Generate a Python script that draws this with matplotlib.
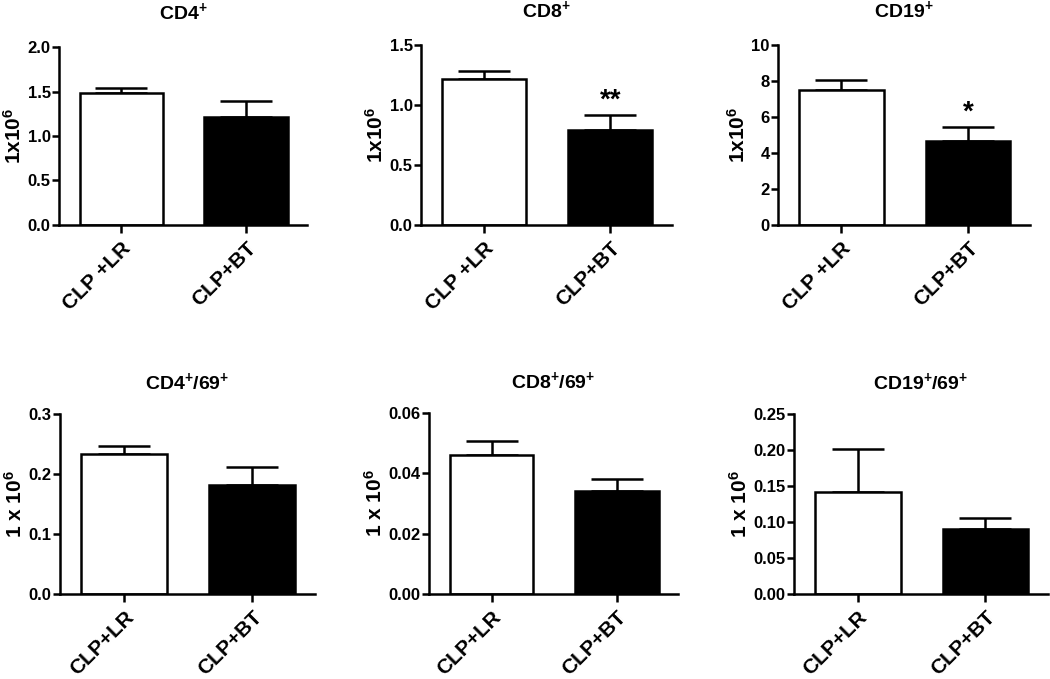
import matplotlib
matplotlib.use("Agg")
import matplotlib.pyplot as plt
import numpy as np

plt.rcParams.update({
    'font.family': 'Liberation Sans',
    'font.weight': 'bold',
    'mathtext.fontset': 'custom',
    'mathtext.rm': 'Liberation Sans:bold',
    'mathtext.it': 'Liberation Sans:bold',
    'mathtext.bf': 'Liberation Sans:bold',
})

# ---- data ----
titles = [r"CD4$^{+}$", r"CD8$^{+}$", r"CD19$^{+}$",
          r"CD4$^{+}$/69$^{+}$", r"CD8$^{+}$/69$^{+}$", r"CD19$^{+}$/69$^{+}$"]
ylabels = [r"1x10$^{6}$"] * 3 + [r"1 x 10$^{6}$"] * 3
groups_top = ["CLP +LR", "CLP+BT"]
groups_bottom = ["CLP+LR", "CLP+BT"]

lr_mean = [1.48, 1.22, 7.5, 0.234, 0.046, 0.142]
lr_sem = [0.06, 0.06, 0.58, 0.012, 0.0047, 0.060]
bt_mean = [1.21, 0.79, 4.65, 0.182, 0.034, 0.090]
bt_sem = [0.18, 0.13, 0.78, 0.029, 0.0042, 0.015]
stars = ["", "**", "*", "", "", ""]

ytick_vals = [
    [0.0, 0.5, 1.0, 1.5, 2.0],
    [0.0, 0.5, 1.0, 1.5],
    [0, 2, 4, 6, 8, 10],
    [0.0, 0.1, 0.2, 0.3],
    [0.00, 0.02, 0.04, 0.06],
    [0.00, 0.05, 0.10, 0.15, 0.20, 0.25],
]
ytick_labels = [
    ["0.0", "0.5", "1.0", "1.5", "2.0"],
    ["0.0", "0.5", "1.0", "1.5"],
    ["0", "2", "4", "6", "8", "10"],
    ["0.0", "0.1", "0.2", "0.3"],
    ["0.00", "0.02", "0.04", "0.06"],
    ["0.00", "0.05", "0.10", "0.15", "0.20", "0.25"],
]

# axes boxes in pixels (left, top, width, height)
W, H = 1050, 679
boxes_px = [
    (59, 47, 248, 178), (421, 45, 251, 180), (778, 45, 252, 180),
    (60, 414, 255, 180), (429, 413, 249, 181), (794, 414, 254, 180),
]

fig = plt.figure(figsize=(W / 100, H / 100), dpi=100)

for i in range(6):
    x0, y0, w, h = boxes_px[i]
    ax = fig.add_axes([x0 / W, 1 - (y0 + h) / H, w / W, h / H])
    x = np.arange(2)
    means = [lr_mean[i], bt_mean[i]]
    errs = [[0, 0], [lr_sem[i], bt_sem[i]]]

    ax.errorbar(x, means, yerr=errs, fmt='none', ecolor='black',
                elinewidth=1.8, capsize=19, capthick=1.8, zorder=1)
    ax.bar(x, means, width=0.67, color=['white', 'black'],
           edgecolor='black', linewidth=1.8, zorder=2)

    if stars[i]:
        ax.annotate(stars[i], (1, bt_mean[i] + bt_sem[i]),
                    xytext=(0, 1), textcoords='offset points',
                    ha='center', va='bottom', fontsize=20, fontweight='bold')

    ax.set_xlim(-0.5, 1.49)
    ax.set_ylim(ytick_vals[i][0], ytick_vals[i][-1])
    ax.set_yticks(ytick_vals[i])
    ax.set_yticklabels(ytick_labels[i], fontsize=12, fontweight='bold')
    ax.set_xticks(x)
    labels = groups_top if i < 3 else groups_bottom
    ax.set_xticklabels(labels, rotation=45, ha='right', va='top',
                       rotation_mode='anchor', fontsize=15, fontweight='bold')

    for side in ['top', 'right']:
        ax.spines[side].set_visible(False)
    for side in ['left', 'bottom']:
        ax.spines[side].set_linewidth(1.8)
    ax.tick_params(axis='y', direction='out', length=5, width=1.8, pad=1)
    ax.tick_params(axis='x', direction='out', length=6, width=1.8, pad=4)

    ax.set_ylabel(ylabels[i], fontsize=15, fontweight='bold', labelpad=2)
    ax.set_title(titles[i], fontsize=14, fontweight='bold',
                 pad=20 if i < 3 else 18)

fig.savefig("out.png", dpi=100)
